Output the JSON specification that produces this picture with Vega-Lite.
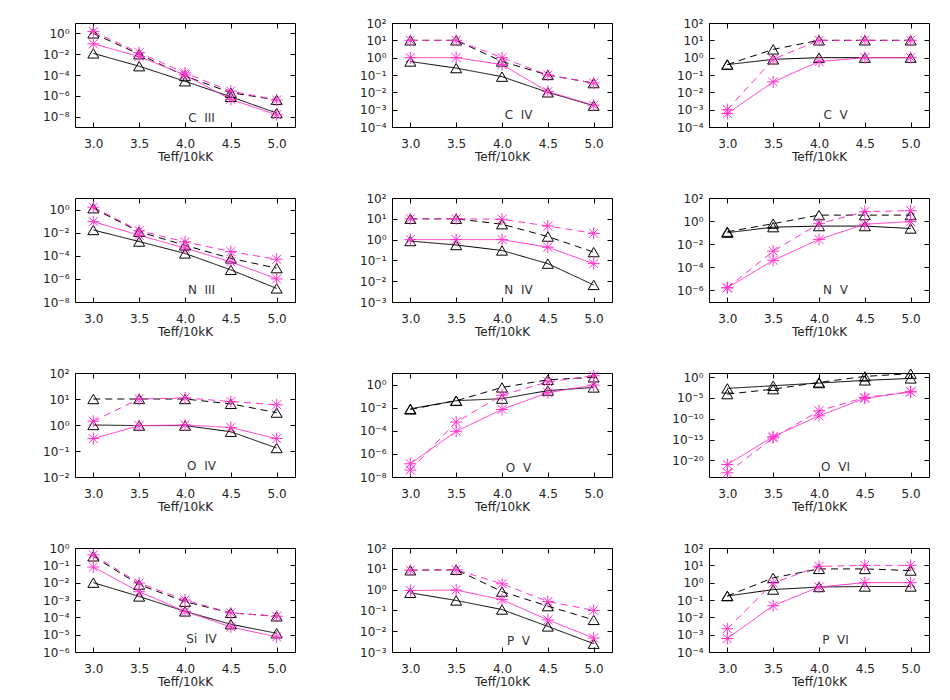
{
"$schema":"https://vega.github.io/schema/vega-lite/v6.json",
"background":"white",
"padding":{"left":42,"top":16,"right":5,"bottom":5},
"columns":3,
"bounds":"flush",
"spacing":{"row":71,"column":97},
"datasets":{
"pts":[
{"ion":"C III","teff":3,"col":"black","sty":"solid","val":0.012},{"ion":"C III","teff":3.5,"col":"black","sty":"solid","val":7e-4},{"ion":"C III","teff":4,"col":"black","sty":"solid","val":2.5e-5},{"ion":"C III","teff":4.5,"col":"black","sty":"solid","val":8e-7},{"ion":"C III","teff":5,"col":"black","sty":"solid","val":2.2e-8},
{"ion":"C III","teff":3,"col":"black","sty":"dashed","val":1.0},{"ion":"C III","teff":3.5,"col":"black","sty":"dashed","val":0.01},{"ion":"C III","teff":4,"col":"black","sty":"dashed","val":8e-5},{"ion":"C III","teff":4.5,"col":"black","sty":"dashed","val":2e-6},{"ion":"C III","teff":5,"col":"black","sty":"dashed","val":4e-7},
{"ion":"C III","teff":3,"col":"magenta","sty":"solid","val":0.1},{"ion":"C III","teff":3.5,"col":"magenta","sty":"solid","val":0.006},{"ion":"C III","teff":4,"col":"magenta","sty":"solid","val":1e-4},{"ion":"C III","teff":4.5,"col":"magenta","sty":"solid","val":4.5e-7},{"ion":"C III","teff":5,"col":"magenta","sty":"solid","val":1.5e-8},
{"ion":"C III","teff":3,"col":"magenta","sty":"dashed","val":1.5},{"ion":"C III","teff":3.5,"col":"magenta","sty":"dashed","val":0.014},{"ion":"C III","teff":4,"col":"magenta","sty":"dashed","val":1.6e-4},{"ion":"C III","teff":4.5,"col":"magenta","sty":"dashed","val":2.8e-6},{"ion":"C III","teff":5,"col":"magenta","sty":"dashed","val":4e-7},

{"ion":"C IV","teff":3,"col":"black","sty":"solid","val":0.6},{"ion":"C IV","teff":3.5,"col":"black","sty":"solid","val":0.25},{"ion":"C IV","teff":4,"col":"black","sty":"solid","val":0.08},{"ion":"C IV","teff":4.5,"col":"black","sty":"solid","val":0.01},{"ion":"C IV","teff":5,"col":"black","sty":"solid","val":0.0017},
{"ion":"C IV","teff":3,"col":"black","sty":"dashed","val":10},{"ion":"C IV","teff":3.5,"col":"black","sty":"dashed","val":10},{"ion":"C IV","teff":4,"col":"black","sty":"dashed","val":0.6},{"ion":"C IV","teff":4.5,"col":"black","sty":"dashed","val":0.1},{"ion":"C IV","teff":5,"col":"black","sty":"dashed","val":0.034},
{"ion":"C IV","teff":3,"col":"magenta","sty":"solid","val":1},{"ion":"C IV","teff":3.5,"col":"magenta","sty":"solid","val":1},{"ion":"C IV","teff":4,"col":"magenta","sty":"solid","val":0.4},{"ion":"C IV","teff":4.5,"col":"magenta","sty":"solid","val":0.011},{"ion":"C IV","teff":5,"col":"magenta","sty":"solid","val":0.0018},
{"ion":"C IV","teff":3,"col":"magenta","sty":"dashed","val":10},{"ion":"C IV","teff":3.5,"col":"magenta","sty":"dashed","val":10},{"ion":"C IV","teff":4,"col":"magenta","sty":"dashed","val":1.0},{"ion":"C IV","teff":4.5,"col":"magenta","sty":"dashed","val":0.1},{"ion":"C IV","teff":5,"col":"magenta","sty":"dashed","val":0.034},

{"ion":"C V","teff":3,"col":"black","sty":"solid","val":0.4},{"ion":"C V","teff":3.5,"col":"black","sty":"solid","val":0.8},{"ion":"C V","teff":4,"col":"black","sty":"solid","val":1},{"ion":"C V","teff":4.5,"col":"black","sty":"solid","val":1},{"ion":"C V","teff":5,"col":"black","sty":"solid","val":1},
{"ion":"C V","teff":3,"col":"black","sty":"dashed","val":0.4},{"ion":"C V","teff":3.5,"col":"black","sty":"dashed","val":3},{"ion":"C V","teff":4,"col":"black","sty":"dashed","val":10},{"ion":"C V","teff":4.5,"col":"black","sty":"dashed","val":10},{"ion":"C V","teff":5,"col":"black","sty":"dashed","val":10},
{"ion":"C V","teff":3,"col":"magenta","sty":"solid","val":6e-4},{"ion":"C V","teff":3.5,"col":"magenta","sty":"solid","val":0.04},{"ion":"C V","teff":4,"col":"magenta","sty":"solid","val":0.6},{"ion":"C V","teff":4.5,"col":"magenta","sty":"solid","val":1},{"ion":"C V","teff":5,"col":"magenta","sty":"solid","val":1},
{"ion":"C V","teff":3,"col":"magenta","sty":"dashed","val":1e-3},{"ion":"C V","teff":3.5,"col":"magenta","sty":"dashed","val":0.8},{"ion":"C V","teff":4,"col":"magenta","sty":"dashed","val":10},{"ion":"C V","teff":4.5,"col":"magenta","sty":"dashed","val":10},{"ion":"C V","teff":5,"col":"magenta","sty":"dashed","val":10},

{"ion":"N III","teff":3,"col":"black","sty":"solid","val":0.017},{"ion":"N III","teff":3.5,"col":"black","sty":"solid","val":0.0017},{"ion":"N III","teff":4,"col":"black","sty":"solid","val":1.6e-4},{"ion":"N III","teff":4.5,"col":"black","sty":"solid","val":6e-6},{"ion":"N III","teff":5,"col":"black","sty":"solid","val":1.5e-7},
{"ion":"N III","teff":3,"col":"black","sty":"dashed","val":1.3},{"ion":"N III","teff":3.5,"col":"black","sty":"dashed","val":0.012},{"ion":"N III","teff":4,"col":"black","sty":"dashed","val":8e-4},{"ion":"N III","teff":4.5,"col":"black","sty":"dashed","val":6e-5},{"ion":"N III","teff":5,"col":"black","sty":"dashed","val":8.5e-6},
{"ion":"N III","teff":3,"col":"magenta","sty":"solid","val":0.09},{"ion":"N III","teff":3.5,"col":"magenta","sty":"solid","val":0.006},{"ion":"N III","teff":4,"col":"magenta","sty":"solid","val":4.6e-4},{"ion":"N III","teff":4.5,"col":"magenta","sty":"solid","val":3e-5},{"ion":"N III","teff":5,"col":"magenta","sty":"solid","val":1e-6},
{"ion":"N III","teff":3,"col":"magenta","sty":"dashed","val":1.6},{"ion":"N III","teff":3.5,"col":"magenta","sty":"dashed","val":0.015},{"ion":"N III","teff":4,"col":"magenta","sty":"dashed","val":1.6e-3},{"ion":"N III","teff":4.5,"col":"magenta","sty":"dashed","val":2.3e-4},{"ion":"N III","teff":5,"col":"magenta","sty":"dashed","val":5e-5},

{"ion":"N IV","teff":3,"col":"black","sty":"solid","val":0.85},{"ion":"N IV","teff":3.5,"col":"black","sty":"solid","val":0.55},{"ion":"N IV","teff":4,"col":"black","sty":"solid","val":0.3},{"ion":"N IV","teff":4.5,"col":"black","sty":"solid","val":0.07},{"ion":"N IV","teff":5,"col":"black","sty":"solid","val":0.0066},
{"ion":"N IV","teff":3,"col":"black","sty":"dashed","val":10},{"ion":"N IV","teff":3.5,"col":"black","sty":"dashed","val":10},{"ion":"N IV","teff":4,"col":"black","sty":"dashed","val":5.5},{"ion":"N IV","teff":4.5,"col":"black","sty":"dashed","val":1.4},{"ion":"N IV","teff":5,"col":"black","sty":"dashed","val":0.25},
{"ion":"N IV","teff":3,"col":"magenta","sty":"solid","val":1},{"ion":"N IV","teff":3.5,"col":"magenta","sty":"solid","val":1},{"ion":"N IV","teff":4,"col":"magenta","sty":"solid","val":1},{"ion":"N IV","teff":4.5,"col":"magenta","sty":"solid","val":0.43},{"ion":"N IV","teff":5,"col":"magenta","sty":"solid","val":0.07},
{"ion":"N IV","teff":3,"col":"magenta","sty":"dashed","val":10},{"ion":"N IV","teff":3.5,"col":"magenta","sty":"dashed","val":10},{"ion":"N IV","teff":4,"col":"magenta","sty":"dashed","val":9.5},{"ion":"N IV","teff":4.5,"col":"magenta","sty":"dashed","val":4.5},{"ion":"N IV","teff":5,"col":"magenta","sty":"dashed","val":2},

{"ion":"N V","teff":3,"col":"black","sty":"solid","val":0.1},{"ion":"N V","teff":3.5,"col":"black","sty":"solid","val":0.3},{"ion":"N V","teff":4,"col":"black","sty":"solid","val":0.37},{"ion":"N V","teff":4.5,"col":"black","sty":"solid","val":0.37},{"ion":"N V","teff":5,"col":"black","sty":"solid","val":0.23},
{"ion":"N V","teff":3,"col":"black","sty":"dashed","val":0.12},{"ion":"N V","teff":3.5,"col":"black","sty":"dashed","val":0.6},{"ion":"N V","teff":4,"col":"black","sty":"dashed","val":3.3},{"ion":"N V","teff":4.5,"col":"black","sty":"dashed","val":3.3},{"ion":"N V","teff":5,"col":"black","sty":"dashed","val":3.3},
{"ion":"N V","teff":3,"col":"magenta","sty":"solid","val":1.7e-6},{"ion":"N V","teff":3.5,"col":"magenta","sty":"solid","val":4e-4},{"ion":"N V","teff":4,"col":"magenta","sty":"solid","val":0.026},{"ion":"N V","teff":4.5,"col":"magenta","sty":"solid","val":0.55},{"ion":"N V","teff":5,"col":"magenta","sty":"solid","val":0.9},
{"ion":"N V","teff":3,"col":"magenta","sty":"dashed","val":1.7e-6},{"ion":"N V","teff":3.5,"col":"magenta","sty":"dashed","val":2.5e-3},{"ion":"N V","teff":4,"col":"magenta","sty":"dashed","val":0.6},{"ion":"N V","teff":4.5,"col":"magenta","sty":"dashed","val":6.6},{"ion":"N V","teff":5,"col":"magenta","sty":"dashed","val":8},

{"ion":"O IV","teff":3,"col":"black","sty":"solid","val":1.0},{"ion":"O IV","teff":3.5,"col":"black","sty":"solid","val":0.95},{"ion":"O IV","teff":4,"col":"black","sty":"solid","val":0.95},{"ion":"O IV","teff":4.5,"col":"black","sty":"solid","val":0.55},{"ion":"O IV","teff":5,"col":"black","sty":"solid","val":0.13},
{"ion":"O IV","teff":3,"col":"black","sty":"dashed","val":10},{"ion":"O IV","teff":3.5,"col":"black","sty":"dashed","val":10},{"ion":"O IV","teff":4,"col":"black","sty":"dashed","val":10},{"ion":"O IV","teff":4.5,"col":"black","sty":"dashed","val":6.5},{"ion":"O IV","teff":5,"col":"black","sty":"dashed","val":3},
{"ion":"O IV","teff":3,"col":"magenta","sty":"solid","val":0.3},{"ion":"O IV","teff":3.5,"col":"magenta","sty":"solid","val":0.95},{"ion":"O IV","teff":4,"col":"magenta","sty":"solid","val":1.0},{"ion":"O IV","teff":4.5,"col":"magenta","sty":"solid","val":0.8},{"ion":"O IV","teff":5,"col":"magenta","sty":"solid","val":0.3},
{"ion":"O IV","teff":3,"col":"magenta","sty":"dashed","val":1.4},{"ion":"O IV","teff":3.5,"col":"magenta","sty":"dashed","val":10},{"ion":"O IV","teff":4,"col":"magenta","sty":"dashed","val":11},{"ion":"O IV","teff":4.5,"col":"magenta","sty":"dashed","val":8},{"ion":"O IV","teff":5,"col":"magenta","sty":"dashed","val":6},

{"ion":"O V","teff":3,"col":"black","sty":"solid","val":0.008},{"ion":"O V","teff":3.5,"col":"black","sty":"solid","val":0.04},{"ion":"O V","teff":4,"col":"black","sty":"solid","val":0.06},{"ion":"O V","teff":4.5,"col":"black","sty":"solid","val":0.3},{"ion":"O V","teff":5,"col":"black","sty":"solid","val":0.56},
{"ion":"O V","teff":3,"col":"black","sty":"dashed","val":0.007},{"ion":"O V","teff":3.5,"col":"black","sty":"dashed","val":0.04},{"ion":"O V","teff":4,"col":"black","sty":"dashed","val":0.56},{"ion":"O V","teff":4.5,"col":"black","sty":"dashed","val":2.6},{"ion":"O V","teff":5,"col":"black","sty":"dashed","val":4.2},
{"ion":"O V","teff":3,"col":"magenta","sty":"solid","val":1.4e-7},{"ion":"O V","teff":3.5,"col":"magenta","sty":"solid","val":9e-5},{"ion":"O V","teff":4,"col":"magenta","sty":"solid","val":0.007},{"ion":"O V","teff":4.5,"col":"magenta","sty":"solid","val":0.2},{"ion":"O V","teff":5,"col":"magenta","sty":"solid","val":0.9},
{"ion":"O V","teff":3,"col":"magenta","sty":"dashed","val":4e-8},{"ion":"O V","teff":3.5,"col":"magenta","sty":"dashed","val":5.7e-4},{"ion":"O V","teff":4,"col":"magenta","sty":"dashed","val":0.12},{"ion":"O V","teff":4.5,"col":"magenta","sty":"dashed","val":1.7},{"ion":"O V","teff":5,"col":"magenta","sty":"dashed","val":5.8},

{"ion":"O VI","teff":3,"col":"black","sty":"solid","val":2e-3},{"ion":"O VI","teff":3.5,"col":"black","sty":"solid","val":8.7e-3},{"ion":"O VI","teff":4,"col":"black","sty":"solid","val":0.038},{"ion":"O VI","teff":4.5,"col":"black","sty":"solid","val":0.17},{"ion":"O VI","teff":5,"col":"black","sty":"solid","val":0.5},
{"ion":"O VI","teff":3,"col":"black","sty":"dashed","val":8.3e-5},{"ion":"O VI","teff":3.5,"col":"black","sty":"dashed","val":1.3e-3},{"ion":"O VI","teff":4,"col":"black","sty":"dashed","val":0.055},{"ion":"O VI","teff":4.5,"col":"black","sty":"dashed","val":1.5},{"ion":"O VI","teff":5,"col":"black","sty":"dashed","val":6.9},
{"ion":"O VI","teff":3,"col":"magenta","sty":"solid","val":1e-21},{"ion":"O VI","teff":3.5,"col":"magenta","sty":"solid","val":5e-15},{"ion":"O VI","teff":4,"col":"magenta","sty":"solid","val":5e-10},{"ion":"O VI","teff":4.5,"col":"magenta","sty":"solid","val":8e-6},{"ion":"O VI","teff":5,"col":"magenta","sty":"solid","val":3e-4},
{"ion":"O VI","teff":3,"col":"magenta","sty":"dashed","val":1e-23},{"ion":"O VI","teff":3.5,"col":"magenta","sty":"dashed","val":2.5e-15},{"ion":"O VI","teff":4,"col":"magenta","sty":"dashed","val":8e-9},{"ion":"O VI","teff":4.5,"col":"magenta","sty":"dashed","val":1.3e-5},{"ion":"O VI","teff":5,"col":"magenta","sty":"dashed","val":3e-4},

{"ion":"Si IV","teff":3,"col":"black","sty":"solid","val":0.01},{"ion":"Si IV","teff":3.5,"col":"black","sty":"solid","val":1.6e-3},{"ion":"Si IV","teff":4,"col":"black","sty":"solid","val":2.2e-4},{"ion":"Si IV","teff":4.5,"col":"black","sty":"solid","val":4e-5},{"ion":"Si IV","teff":5,"col":"black","sty":"solid","val":1.2e-5},
{"ion":"Si IV","teff":3,"col":"black","sty":"dashed","val":0.33},{"ion":"Si IV","teff":3.5,"col":"black","sty":"dashed","val":7.7e-3},{"ion":"Si IV","teff":4,"col":"black","sty":"dashed","val":8e-4},{"ion":"Si IV","teff":4.5,"col":"black","sty":"dashed","val":1.8e-4},{"ion":"Si IV","teff":5,"col":"black","sty":"dashed","val":1.15e-4},
{"ion":"Si IV","teff":3,"col":"magenta","sty":"solid","val":0.08},{"ion":"Si IV","teff":3.5,"col":"magenta","sty":"solid","val":3e-3},{"ion":"Si IV","teff":4,"col":"magenta","sty":"solid","val":2.2e-4},{"ion":"Si IV","teff":4.5,"col":"magenta","sty":"solid","val":2.8e-5},{"ion":"Si IV","teff":5,"col":"magenta","sty":"solid","val":7.4e-6},
{"ion":"Si IV","teff":3,"col":"magenta","sty":"dashed","val":0.4},{"ion":"Si IV","teff":3.5,"col":"magenta","sty":"dashed","val":9.5e-3},{"ion":"Si IV","teff":4,"col":"magenta","sty":"dashed","val":1e-3},{"ion":"Si IV","teff":4.5,"col":"magenta","sty":"dashed","val":1.8e-4},{"ion":"Si IV","teff":5,"col":"magenta","sty":"dashed","val":1.15e-4},

{"ion":"P V","teff":3,"col":"black","sty":"solid","val":0.7},{"ion":"P V","teff":3.5,"col":"black","sty":"solid","val":0.3},{"ion":"P V","teff":4,"col":"black","sty":"solid","val":0.11},{"ion":"P V","teff":4.5,"col":"black","sty":"solid","val":0.017},{"ion":"P V","teff":5,"col":"black","sty":"solid","val":0.0025},
{"ion":"P V","teff":3,"col":"black","sty":"dashed","val":8.5},{"ion":"P V","teff":3.5,"col":"black","sty":"dashed","val":9},{"ion":"P V","teff":4,"col":"black","sty":"dashed","val":0.8},{"ion":"P V","teff":4.5,"col":"black","sty":"dashed","val":0.16},{"ion":"P V","teff":5,"col":"black","sty":"dashed","val":0.035},
{"ion":"P V","teff":3,"col":"magenta","sty":"solid","val":0.9},{"ion":"P V","teff":3.5,"col":"magenta","sty":"solid","val":0.95},{"ion":"P V","teff":4,"col":"magenta","sty":"solid","val":0.33},{"ion":"P V","teff":4.5,"col":"magenta","sty":"solid","val":0.035},{"ion":"P V","teff":5,"col":"magenta","sty":"solid","val":0.0047},
{"ion":"P V","teff":3,"col":"magenta","sty":"dashed","val":8.5},{"ion":"P V","teff":3.5,"col":"magenta","sty":"dashed","val":9},{"ion":"P V","teff":4,"col":"magenta","sty":"dashed","val":1.9},{"ion":"P V","teff":4.5,"col":"magenta","sty":"dashed","val":0.27},{"ion":"P V","teff":5,"col":"magenta","sty":"dashed","val":0.1},

{"ion":"P VI","teff":3,"col":"black","sty":"solid","val":0.17},{"ion":"P VI","teff":3.5,"col":"black","sty":"solid","val":0.4},{"ion":"P VI","teff":4,"col":"black","sty":"solid","val":0.56},{"ion":"P VI","teff":4.5,"col":"black","sty":"solid","val":0.6},{"ion":"P VI","teff":5,"col":"black","sty":"solid","val":0.6},
{"ion":"P VI","teff":3,"col":"black","sty":"dashed","val":0.17},{"ion":"P VI","teff":3.5,"col":"black","sty":"dashed","val":1.9},{"ion":"P VI","teff":4,"col":"black","sty":"dashed","val":6.2},{"ion":"P VI","teff":4.5,"col":"black","sty":"dashed","val":6.2},{"ion":"P VI","teff":5,"col":"black","sty":"dashed","val":5},
{"ion":"P VI","teff":3,"col":"magenta","sty":"solid","val":6e-4},{"ion":"P VI","teff":3.5,"col":"magenta","sty":"solid","val":0.047},{"ion":"P VI","teff":4,"col":"magenta","sty":"solid","val":0.56},{"ion":"P VI","teff":4.5,"col":"magenta","sty":"solid","val":1},{"ion":"P VI","teff":5,"col":"magenta","sty":"solid","val":1},
{"ion":"P VI","teff":3,"col":"magenta","sty":"dashed","val":2.2e-3},{"ion":"P VI","teff":3.5,"col":"magenta","sty":"dashed","val":0.95},{"ion":"P VI","teff":4,"col":"magenta","sty":"dashed","val":8.7},{"ion":"P VI","teff":4.5,"col":"magenta","sty":"dashed","val":10},{"ion":"P VI","teff":5,"col":"magenta","sty":"dashed","val":10}
],
"labels":[
{"ion":"C III","name":"C\u00a0\u00a0III","teff":4.18,"val":7.4e-9},
{"ion":"C IV","name":"C\u00a0\u00a0IV","teff":4.18,"val":5e-4},
{"ion":"C V","name":"C\u00a0\u00a0V","teff":4.18,"val":5e-4},
{"ion":"N III","name":"N\u00a0\u00a0III","teff":4.18,"val":1.07e-7},
{"ion":"N IV","name":"N\u00a0\u00a0IV","teff":4.18,"val":3.8e-3},
{"ion":"N V","name":"N\u00a0\u00a0V","teff":4.18,"val":1.07e-6},
{"ion":"O IV","name":"O\u00a0\u00a0IV","teff":4.18,"val":0.027},
{"ion":"O V","name":"O\u00a0\u00a0V","teff":4.18,"val":6.6e-8},
{"ion":"O VI","name":"O\u00a0\u00a0VI","teff":4.18,"val":3e-22},
{"ion":"Si IV","name":"Si\u00a0\u00a0IV","teff":4.18,"val":5.6e-6},
{"ion":"P V","name":"P\u00a0\u00a0V","teff":4.18,"val":3.4e-3},
{"ion":"P VI","name":"P\u00a0\u00a0VI","teff":4.18,"val":5e-4}
]
},
"concat":[
{"width":220,"height":104,"data":{"name":"pts"},"transform":[{"filter":"datum.ion==='C III'"}],
"encoding":{"x":{"field":"teff","type":"quantitative","scale":{"domain":[2.8,5.2]},"axis":null},"y":{"field":"val","type":"quantitative","scale":{"type":"log","domain":[1e-9,10]},"axis":null}},
"layer":[
{"mark":{"type":"line","strokeWidth":1},"encoding":{
"x":{"field":"teff","type":"quantitative","scale":{"domain":[2.8,5.2]},"axis":{"orient":"bottom","values":[3,3.5,4,4.5,5],"format":".1f","title":"Teff/10kK"}},
"y":{"field":"val","type":"quantitative","scale":{"type":"log","domain":[1e-9,10]},"axis":{"orient":"left","title":null,"values":[1,0.01,1e-4,1e-6,1e-8],"labelExpr":"'10'+replace(replace(replace(replace(replace(replace(replace(replace(replace(replace(replace(toString(round(log(datum.value)/LN10)),'-','⁻'),regexp('0','g'),'⁰'),regexp('1','g'),'¹'),regexp('2','g'),'²'),regexp('3','g'),'³'),regexp('4','g'),'⁴'),regexp('5','g'),'⁵'),regexp('6','g'),'⁶'),regexp('7','g'),'⁷'),regexp('8','g'),'⁸'),regexp('9','g'),'⁹')"}},
"color":{"field":"col","type":"nominal","scale":{"domain":["black","magenta"],"range":["#000000","#ff33cc"]},"legend":null},
"strokeDash":{"field":"sty","type":"nominal","scale":{"domain":["solid","dashed"],"range":[[1,0],[7,5]]},"legend":null}}},
{"transform":[{"filter":"datum.col==='black'"}],"mark":{"type":"point","shape":"M-1,0.85L0,-0.85L1,0.85Z","size":121,"filled":false,"color":"#000000","strokeWidth":1,"opacity":1},"encoding":{
"x":{"field":"teff","type":"quantitative","scale":{"domain":[2.8,5.2]},"axis":{"orient":"top","values":[3,3.5,4,4.5,5],"labels":false,"title":null}},
"y":{"field":"val","type":"quantitative","scale":{"type":"log","domain":[1e-9,10]},"axis":{"orient":"right","values":[1,0.01,1e-4,1e-6,1e-8],"labels":false,"title":null}}}},
{"transform":[{"filter":"datum.col==='magenta'"}],"mark":{"type":"point","shape":"M-1,0L1,0M0,-1L0,1M-0.75,-0.75L0.75,0.75M-0.75,0.75L0.75,-0.75","size":144,"filled":false,"color":"#ff33cc","strokeWidth":1,"opacity":1}},
{"data":{"name":"labels"},"transform":[{"filter":"datum.ion==='C III'"}],"mark":{"type":"text","fontSize":12,"color":"#333333","font":"DejaVu Sans"},"encoding":{"text":{"field":"name"}}}
],
"resolve":{"axis":{"x":"independent","y":"independent"}}},

{"width":220,"height":104,"data":{"name":"pts"},"transform":[{"filter":"datum.ion==='C IV'"}],
"encoding":{"x":{"field":"teff","type":"quantitative","scale":{"domain":[2.8,5.2]},"axis":null},"y":{"field":"val","type":"quantitative","scale":{"type":"log","domain":[1e-4,100]},"axis":null}},
"layer":[
{"mark":{"type":"line","strokeWidth":1},"encoding":{
"x":{"field":"teff","type":"quantitative","scale":{"domain":[2.8,5.2]},"axis":{"orient":"bottom","values":[3,3.5,4,4.5,5],"format":".1f","title":"Teff/10kK"}},
"y":{"field":"val","type":"quantitative","scale":{"type":"log","domain":[1e-4,100]},"axis":{"orient":"left","title":null,"values":[100,10,1,0.1,0.01,0.001,1e-4],"labelExpr":"'10'+replace(replace(replace(replace(replace(replace(replace(replace(replace(replace(replace(toString(round(log(datum.value)/LN10)),'-','⁻'),regexp('0','g'),'⁰'),regexp('1','g'),'¹'),regexp('2','g'),'²'),regexp('3','g'),'³'),regexp('4','g'),'⁴'),regexp('5','g'),'⁵'),regexp('6','g'),'⁶'),regexp('7','g'),'⁷'),regexp('8','g'),'⁸'),regexp('9','g'),'⁹')"}},
"color":{"field":"col","type":"nominal","scale":{"domain":["black","magenta"],"range":["#000000","#ff33cc"]},"legend":null},
"strokeDash":{"field":"sty","type":"nominal","scale":{"domain":["solid","dashed"],"range":[[1,0],[7,5]]},"legend":null}}},
{"transform":[{"filter":"datum.col==='black'"}],"mark":{"type":"point","shape":"M-1,0.85L0,-0.85L1,0.85Z","size":121,"filled":false,"color":"#000000","strokeWidth":1,"opacity":1},"encoding":{
"x":{"field":"teff","type":"quantitative","scale":{"domain":[2.8,5.2]},"axis":{"orient":"top","values":[3,3.5,4,4.5,5],"labels":false,"title":null}},
"y":{"field":"val","type":"quantitative","scale":{"type":"log","domain":[1e-4,100]},"axis":{"orient":"right","values":[100,10,1,0.1,0.01,0.001,1e-4],"labels":false,"title":null}}}},
{"transform":[{"filter":"datum.col==='magenta'"}],"mark":{"type":"point","shape":"M-1,0L1,0M0,-1L0,1M-0.75,-0.75L0.75,0.75M-0.75,0.75L0.75,-0.75","size":144,"filled":false,"color":"#ff33cc","strokeWidth":1,"opacity":1}},
{"data":{"name":"labels"},"transform":[{"filter":"datum.ion==='C IV'"}],"mark":{"type":"text","fontSize":12,"color":"#333333","font":"DejaVu Sans"},"encoding":{"text":{"field":"name"}}}
],
"resolve":{"axis":{"x":"independent","y":"independent"}}},

{"width":220,"height":104,"data":{"name":"pts"},"transform":[{"filter":"datum.ion==='C V'"}],
"encoding":{"x":{"field":"teff","type":"quantitative","scale":{"domain":[2.8,5.2]},"axis":null},"y":{"field":"val","type":"quantitative","scale":{"type":"log","domain":[1e-4,100]},"axis":null}},
"layer":[
{"mark":{"type":"line","strokeWidth":1},"encoding":{
"x":{"field":"teff","type":"quantitative","scale":{"domain":[2.8,5.2]},"axis":{"orient":"bottom","values":[3,3.5,4,4.5,5],"format":".1f","title":"Teff/10kK"}},
"y":{"field":"val","type":"quantitative","scale":{"type":"log","domain":[1e-4,100]},"axis":{"orient":"left","title":null,"values":[100,10,1,0.1,0.01,0.001,1e-4],"labelExpr":"'10'+replace(replace(replace(replace(replace(replace(replace(replace(replace(replace(replace(toString(round(log(datum.value)/LN10)),'-','⁻'),regexp('0','g'),'⁰'),regexp('1','g'),'¹'),regexp('2','g'),'²'),regexp('3','g'),'³'),regexp('4','g'),'⁴'),regexp('5','g'),'⁵'),regexp('6','g'),'⁶'),regexp('7','g'),'⁷'),regexp('8','g'),'⁸'),regexp('9','g'),'⁹')"}},
"color":{"field":"col","type":"nominal","scale":{"domain":["black","magenta"],"range":["#000000","#ff33cc"]},"legend":null},
"strokeDash":{"field":"sty","type":"nominal","scale":{"domain":["solid","dashed"],"range":[[1,0],[7,5]]},"legend":null}}},
{"transform":[{"filter":"datum.col==='black'"}],"mark":{"type":"point","shape":"M-1,0.85L0,-0.85L1,0.85Z","size":121,"filled":false,"color":"#000000","strokeWidth":1,"opacity":1},"encoding":{
"x":{"field":"teff","type":"quantitative","scale":{"domain":[2.8,5.2]},"axis":{"orient":"top","values":[3,3.5,4,4.5,5],"labels":false,"title":null}},
"y":{"field":"val","type":"quantitative","scale":{"type":"log","domain":[1e-4,100]},"axis":{"orient":"right","values":[100,10,1,0.1,0.01,0.001,1e-4],"labels":false,"title":null}}}},
{"transform":[{"filter":"datum.col==='magenta'"}],"mark":{"type":"point","shape":"M-1,0L1,0M0,-1L0,1M-0.75,-0.75L0.75,0.75M-0.75,0.75L0.75,-0.75","size":144,"filled":false,"color":"#ff33cc","strokeWidth":1,"opacity":1}},
{"data":{"name":"labels"},"transform":[{"filter":"datum.ion==='C V'"}],"mark":{"type":"text","fontSize":12,"color":"#333333","font":"DejaVu Sans"},"encoding":{"text":{"field":"name"}}}
],
"resolve":{"axis":{"x":"independent","y":"independent"}}},

{"width":220,"height":104,"data":{"name":"pts"},"transform":[{"filter":"datum.ion==='N III'"}],
"encoding":{"x":{"field":"teff","type":"quantitative","scale":{"domain":[2.8,5.2]},"axis":null},"y":{"field":"val","type":"quantitative","scale":{"type":"log","domain":[1e-8,10]},"axis":null}},
"layer":[
{"mark":{"type":"line","strokeWidth":1},"encoding":{
"x":{"field":"teff","type":"quantitative","scale":{"domain":[2.8,5.2]},"axis":{"orient":"bottom","values":[3,3.5,4,4.5,5],"format":".1f","title":"Teff/10kK"}},
"y":{"field":"val","type":"quantitative","scale":{"type":"log","domain":[1e-8,10]},"axis":{"orient":"left","title":null,"values":[1,0.01,1e-4,1e-6,1e-8],"labelExpr":"'10'+replace(replace(replace(replace(replace(replace(replace(replace(replace(replace(replace(toString(round(log(datum.value)/LN10)),'-','⁻'),regexp('0','g'),'⁰'),regexp('1','g'),'¹'),regexp('2','g'),'²'),regexp('3','g'),'³'),regexp('4','g'),'⁴'),regexp('5','g'),'⁵'),regexp('6','g'),'⁶'),regexp('7','g'),'⁷'),regexp('8','g'),'⁸'),regexp('9','g'),'⁹')"}},
"color":{"field":"col","type":"nominal","scale":{"domain":["black","magenta"],"range":["#000000","#ff33cc"]},"legend":null},
"strokeDash":{"field":"sty","type":"nominal","scale":{"domain":["solid","dashed"],"range":[[1,0],[7,5]]},"legend":null}}},
{"transform":[{"filter":"datum.col==='black'"}],"mark":{"type":"point","shape":"M-1,0.85L0,-0.85L1,0.85Z","size":121,"filled":false,"color":"#000000","strokeWidth":1,"opacity":1},"encoding":{
"x":{"field":"teff","type":"quantitative","scale":{"domain":[2.8,5.2]},"axis":{"orient":"top","values":[3,3.5,4,4.5,5],"labels":false,"title":null}},
"y":{"field":"val","type":"quantitative","scale":{"type":"log","domain":[1e-8,10]},"axis":{"orient":"right","values":[1,0.01,1e-4,1e-6,1e-8],"labels":false,"title":null}}}},
{"transform":[{"filter":"datum.col==='magenta'"}],"mark":{"type":"point","shape":"M-1,0L1,0M0,-1L0,1M-0.75,-0.75L0.75,0.75M-0.75,0.75L0.75,-0.75","size":144,"filled":false,"color":"#ff33cc","strokeWidth":1,"opacity":1}},
{"data":{"name":"labels"},"transform":[{"filter":"datum.ion==='N III'"}],"mark":{"type":"text","fontSize":12,"color":"#333333","font":"DejaVu Sans"},"encoding":{"text":{"field":"name"}}}
],
"resolve":{"axis":{"x":"independent","y":"independent"}}},

{"width":220,"height":104,"data":{"name":"pts"},"transform":[{"filter":"datum.ion==='N IV'"}],
"encoding":{"x":{"field":"teff","type":"quantitative","scale":{"domain":[2.8,5.2]},"axis":null},"y":{"field":"val","type":"quantitative","scale":{"type":"log","domain":[1e-3,100]},"axis":null}},
"layer":[
{"mark":{"type":"line","strokeWidth":1},"encoding":{
"x":{"field":"teff","type":"quantitative","scale":{"domain":[2.8,5.2]},"axis":{"orient":"bottom","values":[3,3.5,4,4.5,5],"format":".1f","title":"Teff/10kK"}},
"y":{"field":"val","type":"quantitative","scale":{"type":"log","domain":[1e-3,100]},"axis":{"orient":"left","title":null,"values":[100,10,1,0.1,0.01,0.001],"labelExpr":"'10'+replace(replace(replace(replace(replace(replace(replace(replace(replace(replace(replace(toString(round(log(datum.value)/LN10)),'-','⁻'),regexp('0','g'),'⁰'),regexp('1','g'),'¹'),regexp('2','g'),'²'),regexp('3','g'),'³'),regexp('4','g'),'⁴'),regexp('5','g'),'⁵'),regexp('6','g'),'⁶'),regexp('7','g'),'⁷'),regexp('8','g'),'⁸'),regexp('9','g'),'⁹')"}},
"color":{"field":"col","type":"nominal","scale":{"domain":["black","magenta"],"range":["#000000","#ff33cc"]},"legend":null},
"strokeDash":{"field":"sty","type":"nominal","scale":{"domain":["solid","dashed"],"range":[[1,0],[7,5]]},"legend":null}}},
{"transform":[{"filter":"datum.col==='black'"}],"mark":{"type":"point","shape":"M-1,0.85L0,-0.85L1,0.85Z","size":121,"filled":false,"color":"#000000","strokeWidth":1,"opacity":1},"encoding":{
"x":{"field":"teff","type":"quantitative","scale":{"domain":[2.8,5.2]},"axis":{"orient":"top","values":[3,3.5,4,4.5,5],"labels":false,"title":null}},
"y":{"field":"val","type":"quantitative","scale":{"type":"log","domain":[1e-3,100]},"axis":{"orient":"right","values":[100,10,1,0.1,0.01,0.001],"labels":false,"title":null}}}},
{"transform":[{"filter":"datum.col==='magenta'"}],"mark":{"type":"point","shape":"M-1,0L1,0M0,-1L0,1M-0.75,-0.75L0.75,0.75M-0.75,0.75L0.75,-0.75","size":144,"filled":false,"color":"#ff33cc","strokeWidth":1,"opacity":1}},
{"data":{"name":"labels"},"transform":[{"filter":"datum.ion==='N IV'"}],"mark":{"type":"text","fontSize":12,"color":"#333333","font":"DejaVu Sans"},"encoding":{"text":{"field":"name"}}}
],
"resolve":{"axis":{"x":"independent","y":"independent"}}},

{"width":220,"height":104,"data":{"name":"pts"},"transform":[{"filter":"datum.ion==='N V'"}],
"encoding":{"x":{"field":"teff","type":"quantitative","scale":{"domain":[2.8,5.2]},"axis":null},"y":{"field":"val","type":"quantitative","scale":{"type":"log","domain":[1e-7,100]},"axis":null}},
"layer":[
{"mark":{"type":"line","strokeWidth":1},"encoding":{
"x":{"field":"teff","type":"quantitative","scale":{"domain":[2.8,5.2]},"axis":{"orient":"bottom","values":[3,3.5,4,4.5,5],"format":".1f","title":"Teff/10kK"}},
"y":{"field":"val","type":"quantitative","scale":{"type":"log","domain":[1e-7,100]},"axis":{"orient":"left","title":null,"values":[100,1,0.01,1e-4,1e-6],"labelExpr":"'10'+replace(replace(replace(replace(replace(replace(replace(replace(replace(replace(replace(toString(round(log(datum.value)/LN10)),'-','⁻'),regexp('0','g'),'⁰'),regexp('1','g'),'¹'),regexp('2','g'),'²'),regexp('3','g'),'³'),regexp('4','g'),'⁴'),regexp('5','g'),'⁵'),regexp('6','g'),'⁶'),regexp('7','g'),'⁷'),regexp('8','g'),'⁸'),regexp('9','g'),'⁹')"}},
"color":{"field":"col","type":"nominal","scale":{"domain":["black","magenta"],"range":["#000000","#ff33cc"]},"legend":null},
"strokeDash":{"field":"sty","type":"nominal","scale":{"domain":["solid","dashed"],"range":[[1,0],[7,5]]},"legend":null}}},
{"transform":[{"filter":"datum.col==='black'"}],"mark":{"type":"point","shape":"M-1,0.85L0,-0.85L1,0.85Z","size":121,"filled":false,"color":"#000000","strokeWidth":1,"opacity":1},"encoding":{
"x":{"field":"teff","type":"quantitative","scale":{"domain":[2.8,5.2]},"axis":{"orient":"top","values":[3,3.5,4,4.5,5],"labels":false,"title":null}},
"y":{"field":"val","type":"quantitative","scale":{"type":"log","domain":[1e-7,100]},"axis":{"orient":"right","values":[100,1,0.01,1e-4,1e-6],"labels":false,"title":null}}}},
{"transform":[{"filter":"datum.col==='magenta'"}],"mark":{"type":"point","shape":"M-1,0L1,0M0,-1L0,1M-0.75,-0.75L0.75,0.75M-0.75,0.75L0.75,-0.75","size":144,"filled":false,"color":"#ff33cc","strokeWidth":1,"opacity":1}},
{"data":{"name":"labels"},"transform":[{"filter":"datum.ion==='N V'"}],"mark":{"type":"text","fontSize":12,"color":"#333333","font":"DejaVu Sans"},"encoding":{"text":{"field":"name"}}}
],
"resolve":{"axis":{"x":"independent","y":"independent"}}},

{"width":220,"height":104,"data":{"name":"pts"},"transform":[{"filter":"datum.ion==='O IV'"}],
"encoding":{"x":{"field":"teff","type":"quantitative","scale":{"domain":[2.8,5.2]},"axis":null},"y":{"field":"val","type":"quantitative","scale":{"type":"log","domain":[0.01,100]},"axis":null}},
"layer":[
{"mark":{"type":"line","strokeWidth":1},"encoding":{
"x":{"field":"teff","type":"quantitative","scale":{"domain":[2.8,5.2]},"axis":{"orient":"bottom","values":[3,3.5,4,4.5,5],"format":".1f","title":"Teff/10kK"}},
"y":{"field":"val","type":"quantitative","scale":{"type":"log","domain":[0.01,100]},"axis":{"orient":"left","title":null,"values":[100,10,1,0.1,0.01],"labelExpr":"'10'+replace(replace(replace(replace(replace(replace(replace(replace(replace(replace(replace(toString(round(log(datum.value)/LN10)),'-','⁻'),regexp('0','g'),'⁰'),regexp('1','g'),'¹'),regexp('2','g'),'²'),regexp('3','g'),'³'),regexp('4','g'),'⁴'),regexp('5','g'),'⁵'),regexp('6','g'),'⁶'),regexp('7','g'),'⁷'),regexp('8','g'),'⁸'),regexp('9','g'),'⁹')"}},
"color":{"field":"col","type":"nominal","scale":{"domain":["black","magenta"],"range":["#000000","#ff33cc"]},"legend":null},
"strokeDash":{"field":"sty","type":"nominal","scale":{"domain":["solid","dashed"],"range":[[1,0],[7,5]]},"legend":null}}},
{"transform":[{"filter":"datum.col==='black'"}],"mark":{"type":"point","shape":"M-1,0.85L0,-0.85L1,0.85Z","size":121,"filled":false,"color":"#000000","strokeWidth":1,"opacity":1},"encoding":{
"x":{"field":"teff","type":"quantitative","scale":{"domain":[2.8,5.2]},"axis":{"orient":"top","values":[3,3.5,4,4.5,5],"labels":false,"title":null}},
"y":{"field":"val","type":"quantitative","scale":{"type":"log","domain":[0.01,100]},"axis":{"orient":"right","values":[100,10,1,0.1,0.01],"labels":false,"title":null}}}},
{"transform":[{"filter":"datum.col==='magenta'"}],"mark":{"type":"point","shape":"M-1,0L1,0M0,-1L0,1M-0.75,-0.75L0.75,0.75M-0.75,0.75L0.75,-0.75","size":144,"filled":false,"color":"#ff33cc","strokeWidth":1,"opacity":1}},
{"data":{"name":"labels"},"transform":[{"filter":"datum.ion==='O IV'"}],"mark":{"type":"text","fontSize":12,"color":"#333333","font":"DejaVu Sans"},"encoding":{"text":{"field":"name"}}}
],
"resolve":{"axis":{"x":"independent","y":"independent"}}},

{"width":220,"height":104,"data":{"name":"pts"},"transform":[{"filter":"datum.ion==='O V'"}],
"encoding":{"x":{"field":"teff","type":"quantitative","scale":{"domain":[2.8,5.2]},"axis":null},"y":{"field":"val","type":"quantitative","scale":{"type":"log","domain":[1e-8,10]},"axis":null}},
"layer":[
{"mark":{"type":"line","strokeWidth":1},"encoding":{
"x":{"field":"teff","type":"quantitative","scale":{"domain":[2.8,5.2]},"axis":{"orient":"bottom","values":[3,3.5,4,4.5,5],"format":".1f","title":"Teff/10kK"}},
"y":{"field":"val","type":"quantitative","scale":{"type":"log","domain":[1e-8,10]},"axis":{"orient":"left","title":null,"values":[1,0.01,1e-4,1e-6,1e-8],"labelExpr":"'10'+replace(replace(replace(replace(replace(replace(replace(replace(replace(replace(replace(toString(round(log(datum.value)/LN10)),'-','⁻'),regexp('0','g'),'⁰'),regexp('1','g'),'¹'),regexp('2','g'),'²'),regexp('3','g'),'³'),regexp('4','g'),'⁴'),regexp('5','g'),'⁵'),regexp('6','g'),'⁶'),regexp('7','g'),'⁷'),regexp('8','g'),'⁸'),regexp('9','g'),'⁹')"}},
"color":{"field":"col","type":"nominal","scale":{"domain":["black","magenta"],"range":["#000000","#ff33cc"]},"legend":null},
"strokeDash":{"field":"sty","type":"nominal","scale":{"domain":["solid","dashed"],"range":[[1,0],[7,5]]},"legend":null}}},
{"transform":[{"filter":"datum.col==='black'"}],"mark":{"type":"point","shape":"M-1,0.85L0,-0.85L1,0.85Z","size":121,"filled":false,"color":"#000000","strokeWidth":1,"opacity":1},"encoding":{
"x":{"field":"teff","type":"quantitative","scale":{"domain":[2.8,5.2]},"axis":{"orient":"top","values":[3,3.5,4,4.5,5],"labels":false,"title":null}},
"y":{"field":"val","type":"quantitative","scale":{"type":"log","domain":[1e-8,10]},"axis":{"orient":"right","values":[1,0.01,1e-4,1e-6,1e-8],"labels":false,"title":null}}}},
{"transform":[{"filter":"datum.col==='magenta'"}],"mark":{"type":"point","shape":"M-1,0L1,0M0,-1L0,1M-0.75,-0.75L0.75,0.75M-0.75,0.75L0.75,-0.75","size":144,"filled":false,"color":"#ff33cc","strokeWidth":1,"opacity":1}},
{"data":{"name":"labels"},"transform":[{"filter":"datum.ion==='O V'"}],"mark":{"type":"text","fontSize":12,"color":"#333333","font":"DejaVu Sans"},"encoding":{"text":{"field":"name"}}}
],
"resolve":{"axis":{"x":"independent","y":"independent"}}},

{"width":220,"height":104,"data":{"name":"pts"},"transform":[{"filter":"datum.ion==='O VI'"}],
"encoding":{"x":{"field":"teff","type":"quantitative","scale":{"domain":[2.8,5.2]},"axis":null},"y":{"field":"val","type":"quantitative","scale":{"type":"log","domain":[1e-24,10]},"axis":null}},
"layer":[
{"mark":{"type":"line","strokeWidth":1},"encoding":{
"x":{"field":"teff","type":"quantitative","scale":{"domain":[2.8,5.2]},"axis":{"orient":"bottom","values":[3,3.5,4,4.5,5],"format":".1f","title":"Teff/10kK"}},
"y":{"field":"val","type":"quantitative","scale":{"type":"log","domain":[1e-24,10]},"axis":{"orient":"left","title":null,"values":[1,1e-5,1e-10,1e-15,1e-20],"labelExpr":"'10'+replace(replace(replace(replace(replace(replace(replace(replace(replace(replace(replace(toString(round(log(datum.value)/LN10)),'-','⁻'),regexp('0','g'),'⁰'),regexp('1','g'),'¹'),regexp('2','g'),'²'),regexp('3','g'),'³'),regexp('4','g'),'⁴'),regexp('5','g'),'⁵'),regexp('6','g'),'⁶'),regexp('7','g'),'⁷'),regexp('8','g'),'⁸'),regexp('9','g'),'⁹')"}},
"color":{"field":"col","type":"nominal","scale":{"domain":["black","magenta"],"range":["#000000","#ff33cc"]},"legend":null},
"strokeDash":{"field":"sty","type":"nominal","scale":{"domain":["solid","dashed"],"range":[[1,0],[7,5]]},"legend":null}}},
{"transform":[{"filter":"datum.col==='black'"}],"mark":{"type":"point","shape":"M-1,0.85L0,-0.85L1,0.85Z","size":121,"filled":false,"color":"#000000","strokeWidth":1,"opacity":1},"encoding":{
"x":{"field":"teff","type":"quantitative","scale":{"domain":[2.8,5.2]},"axis":{"orient":"top","values":[3,3.5,4,4.5,5],"labels":false,"title":null}},
"y":{"field":"val","type":"quantitative","scale":{"type":"log","domain":[1e-24,10]},"axis":{"orient":"right","values":[1,1e-5,1e-10,1e-15,1e-20],"labels":false,"title":null}}}},
{"transform":[{"filter":"datum.col==='magenta'"}],"mark":{"type":"point","shape":"M-1,0L1,0M0,-1L0,1M-0.75,-0.75L0.75,0.75M-0.75,0.75L0.75,-0.75","size":144,"filled":false,"color":"#ff33cc","strokeWidth":1,"opacity":1}},
{"data":{"name":"labels"},"transform":[{"filter":"datum.ion==='O VI'"}],"mark":{"type":"text","fontSize":12,"color":"#333333","font":"DejaVu Sans"},"encoding":{"text":{"field":"name"}}}
],
"resolve":{"axis":{"x":"independent","y":"independent"}}},

{"width":220,"height":104,"data":{"name":"pts"},"transform":[{"filter":"datum.ion==='Si IV'"}],
"encoding":{"x":{"field":"teff","type":"quantitative","scale":{"domain":[2.8,5.2]},"axis":null},"y":{"field":"val","type":"quantitative","scale":{"type":"log","domain":[1e-6,1]},"axis":null}},
"layer":[
{"mark":{"type":"line","strokeWidth":1},"encoding":{
"x":{"field":"teff","type":"quantitative","scale":{"domain":[2.8,5.2]},"axis":{"orient":"bottom","values":[3,3.5,4,4.5,5],"format":".1f","title":"Teff/10kK"}},
"y":{"field":"val","type":"quantitative","scale":{"type":"log","domain":[1e-6,1]},"axis":{"orient":"left","title":null,"values":[1,0.1,0.01,1e-3,1e-4,1e-5,1e-6],"labelExpr":"'10'+replace(replace(replace(replace(replace(replace(replace(replace(replace(replace(replace(toString(round(log(datum.value)/LN10)),'-','⁻'),regexp('0','g'),'⁰'),regexp('1','g'),'¹'),regexp('2','g'),'²'),regexp('3','g'),'³'),regexp('4','g'),'⁴'),regexp('5','g'),'⁵'),regexp('6','g'),'⁶'),regexp('7','g'),'⁷'),regexp('8','g'),'⁸'),regexp('9','g'),'⁹')"}},
"color":{"field":"col","type":"nominal","scale":{"domain":["black","magenta"],"range":["#000000","#ff33cc"]},"legend":null},
"strokeDash":{"field":"sty","type":"nominal","scale":{"domain":["solid","dashed"],"range":[[1,0],[7,5]]},"legend":null}}},
{"transform":[{"filter":"datum.col==='black'"}],"mark":{"type":"point","shape":"M-1,0.85L0,-0.85L1,0.85Z","size":121,"filled":false,"color":"#000000","strokeWidth":1,"opacity":1},"encoding":{
"x":{"field":"teff","type":"quantitative","scale":{"domain":[2.8,5.2]},"axis":{"orient":"top","values":[3,3.5,4,4.5,5],"labels":false,"title":null}},
"y":{"field":"val","type":"quantitative","scale":{"type":"log","domain":[1e-6,1]},"axis":{"orient":"right","values":[1,0.1,0.01,1e-3,1e-4,1e-5,1e-6],"labels":false,"title":null}}}},
{"transform":[{"filter":"datum.col==='magenta'"}],"mark":{"type":"point","shape":"M-1,0L1,0M0,-1L0,1M-0.75,-0.75L0.75,0.75M-0.75,0.75L0.75,-0.75","size":144,"filled":false,"color":"#ff33cc","strokeWidth":1,"opacity":1}},
{"data":{"name":"labels"},"transform":[{"filter":"datum.ion==='Si IV'"}],"mark":{"type":"text","fontSize":12,"color":"#333333","font":"DejaVu Sans"},"encoding":{"text":{"field":"name"}}}
],
"resolve":{"axis":{"x":"independent","y":"independent"}}},

{"width":220,"height":104,"data":{"name":"pts"},"transform":[{"filter":"datum.ion==='P V'"}],
"encoding":{"x":{"field":"teff","type":"quantitative","scale":{"domain":[2.8,5.2]},"axis":null},"y":{"field":"val","type":"quantitative","scale":{"type":"log","domain":[1e-3,100]},"axis":null}},
"layer":[
{"mark":{"type":"line","strokeWidth":1},"encoding":{
"x":{"field":"teff","type":"quantitative","scale":{"domain":[2.8,5.2]},"axis":{"orient":"bottom","values":[3,3.5,4,4.5,5],"format":".1f","title":"Teff/10kK"}},
"y":{"field":"val","type":"quantitative","scale":{"type":"log","domain":[1e-3,100]},"axis":{"orient":"left","title":null,"values":[100,10,1,0.1,0.01,0.001],"labelExpr":"'10'+replace(replace(replace(replace(replace(replace(replace(replace(replace(replace(replace(toString(round(log(datum.value)/LN10)),'-','⁻'),regexp('0','g'),'⁰'),regexp('1','g'),'¹'),regexp('2','g'),'²'),regexp('3','g'),'³'),regexp('4','g'),'⁴'),regexp('5','g'),'⁵'),regexp('6','g'),'⁶'),regexp('7','g'),'⁷'),regexp('8','g'),'⁸'),regexp('9','g'),'⁹')"}},
"color":{"field":"col","type":"nominal","scale":{"domain":["black","magenta"],"range":["#000000","#ff33cc"]},"legend":null},
"strokeDash":{"field":"sty","type":"nominal","scale":{"domain":["solid","dashed"],"range":[[1,0],[7,5]]},"legend":null}}},
{"transform":[{"filter":"datum.col==='black'"}],"mark":{"type":"point","shape":"M-1,0.85L0,-0.85L1,0.85Z","size":121,"filled":false,"color":"#000000","strokeWidth":1,"opacity":1},"encoding":{
"x":{"field":"teff","type":"quantitative","scale":{"domain":[2.8,5.2]},"axis":{"orient":"top","values":[3,3.5,4,4.5,5],"labels":false,"title":null}},
"y":{"field":"val","type":"quantitative","scale":{"type":"log","domain":[1e-3,100]},"axis":{"orient":"right","values":[100,10,1,0.1,0.01,0.001],"labels":false,"title":null}}}},
{"transform":[{"filter":"datum.col==='magenta'"}],"mark":{"type":"point","shape":"M-1,0L1,0M0,-1L0,1M-0.75,-0.75L0.75,0.75M-0.75,0.75L0.75,-0.75","size":144,"filled":false,"color":"#ff33cc","strokeWidth":1,"opacity":1}},
{"data":{"name":"labels"},"transform":[{"filter":"datum.ion==='P V'"}],"mark":{"type":"text","fontSize":12,"color":"#333333","font":"DejaVu Sans"},"encoding":{"text":{"field":"name"}}}
],
"resolve":{"axis":{"x":"independent","y":"independent"}}},

{"width":220,"height":104,"data":{"name":"pts"},"transform":[{"filter":"datum.ion==='P VI'"}],
"encoding":{"x":{"field":"teff","type":"quantitative","scale":{"domain":[2.8,5.2]},"axis":null},"y":{"field":"val","type":"quantitative","scale":{"type":"log","domain":[1e-4,100]},"axis":null}},
"layer":[
{"mark":{"type":"line","strokeWidth":1},"encoding":{
"x":{"field":"teff","type":"quantitative","scale":{"domain":[2.8,5.2]},"axis":{"orient":"bottom","values":[3,3.5,4,4.5,5],"format":".1f","title":"Teff/10kK"}},
"y":{"field":"val","type":"quantitative","scale":{"type":"log","domain":[1e-4,100]},"axis":{"orient":"left","title":null,"values":[100,10,1,0.1,0.01,0.001,1e-4],"labelExpr":"'10'+replace(replace(replace(replace(replace(replace(replace(replace(replace(replace(replace(toString(round(log(datum.value)/LN10)),'-','⁻'),regexp('0','g'),'⁰'),regexp('1','g'),'¹'),regexp('2','g'),'²'),regexp('3','g'),'³'),regexp('4','g'),'⁴'),regexp('5','g'),'⁵'),regexp('6','g'),'⁶'),regexp('7','g'),'⁷'),regexp('8','g'),'⁸'),regexp('9','g'),'⁹')"}},
"color":{"field":"col","type":"nominal","scale":{"domain":["black","magenta"],"range":["#000000","#ff33cc"]},"legend":null},
"strokeDash":{"field":"sty","type":"nominal","scale":{"domain":["solid","dashed"],"range":[[1,0],[7,5]]},"legend":null}}},
{"transform":[{"filter":"datum.col==='black'"}],"mark":{"type":"point","shape":"M-1,0.85L0,-0.85L1,0.85Z","size":121,"filled":false,"color":"#000000","strokeWidth":1,"opacity":1},"encoding":{
"x":{"field":"teff","type":"quantitative","scale":{"domain":[2.8,5.2]},"axis":{"orient":"top","values":[3,3.5,4,4.5,5],"labels":false,"title":null}},
"y":{"field":"val","type":"quantitative","scale":{"type":"log","domain":[1e-4,100]},"axis":{"orient":"right","values":[100,10,1,0.1,0.01,0.001,1e-4],"labels":false,"title":null}}}},
{"transform":[{"filter":"datum.col==='magenta'"}],"mark":{"type":"point","shape":"M-1,0L1,0M0,-1L0,1M-0.75,-0.75L0.75,0.75M-0.75,0.75L0.75,-0.75","size":144,"filled":false,"color":"#ff33cc","strokeWidth":1,"opacity":1}},
{"data":{"name":"labels"},"transform":[{"filter":"datum.ion==='P VI'"}],"mark":{"type":"text","fontSize":12,"color":"#333333","font":"DejaVu Sans"},"encoding":{"text":{"field":"name"}}}
],
"resolve":{"axis":{"x":"independent","y":"independent"}}}
],
"config":{
"view":{"stroke":"#000000","strokeWidth":1},
"font":"DejaVu Sans",
"axis":{"domain":false,"grid":false,"tickColor":"#000000","tickSize":-5,"tickWidth":1,"labelFont":"DejaVu Sans","labelFontSize":12,"labelColor":"#222222","labelPadding":16,"labelOverlap":false,"labelFlush":false,"titleFont":"DejaVu Sans","titleFontSize":12,"titleFontWeight":"normal","titleColor":"#222222","titlePadding":2},
"axisLeft":{"labelPadding":11},
"axisRight":{"labelPadding":11}
}
}
